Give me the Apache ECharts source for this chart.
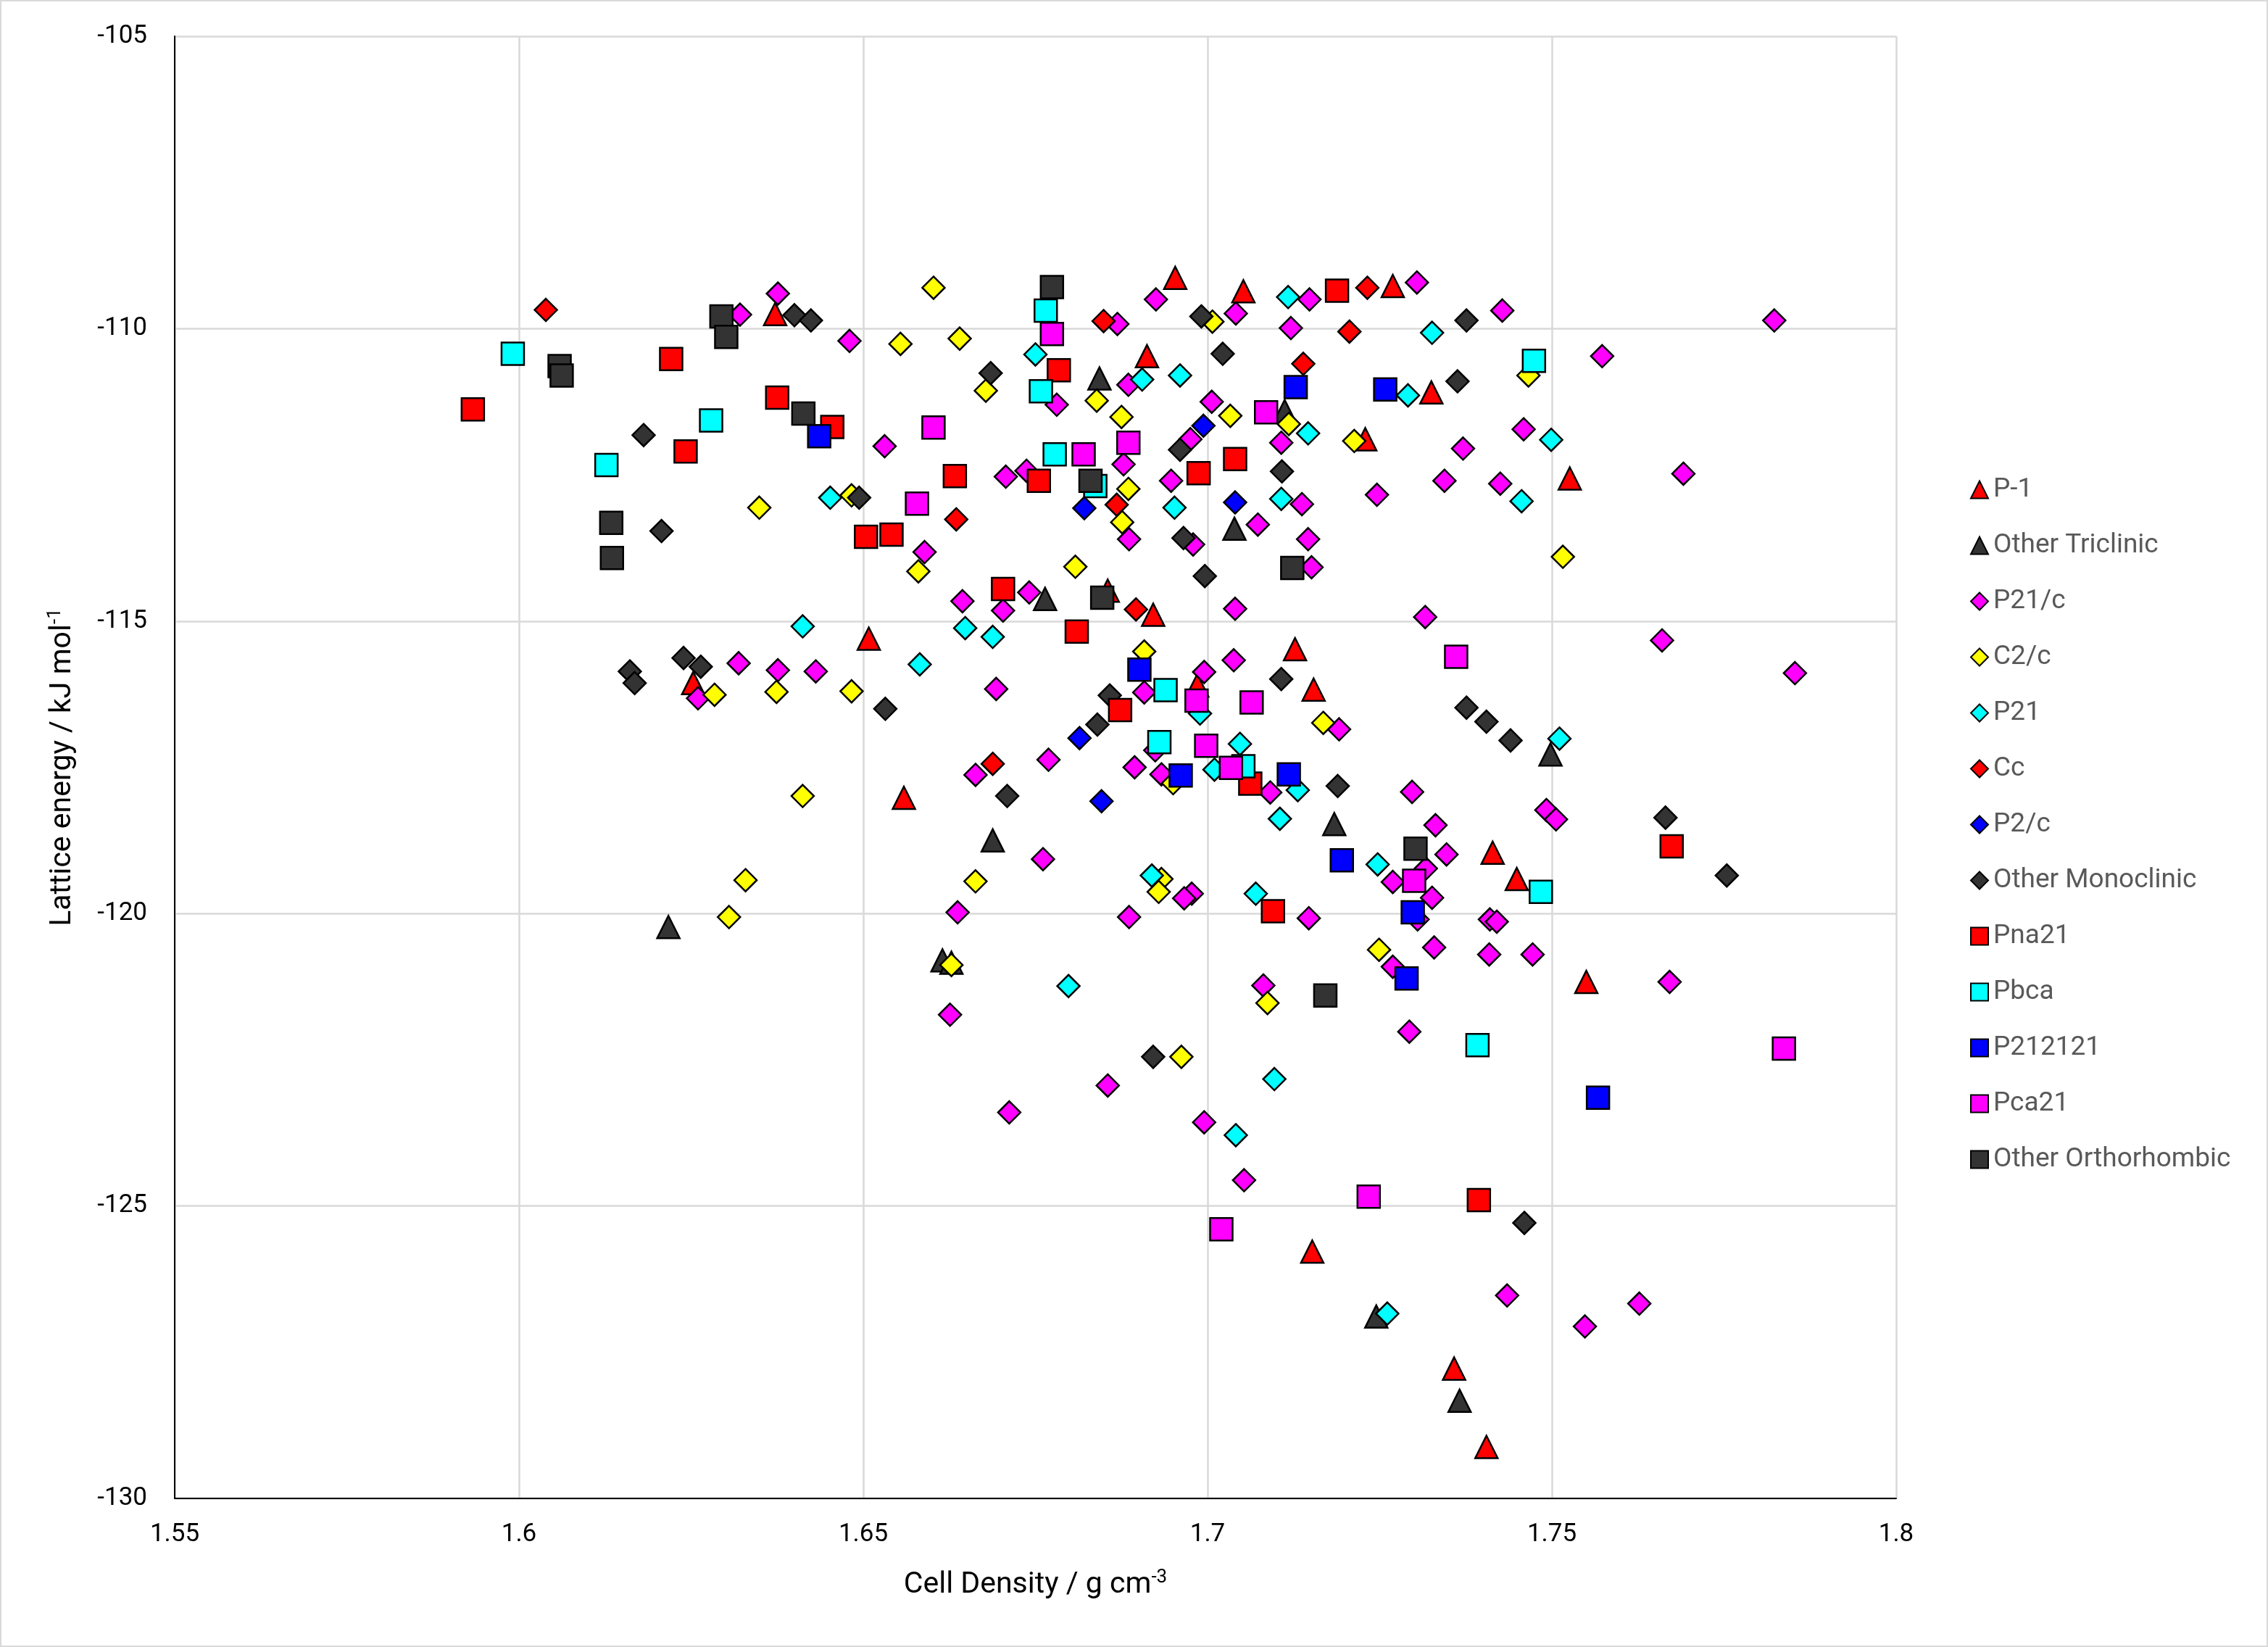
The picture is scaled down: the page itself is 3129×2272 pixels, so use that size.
<!DOCTYPE html>
<html lang="en">

<head>
  <meta charset="UTF-8">
  <title>Lattice energy vs cell density</title>
  <style>
    body {
      margin: 0;
      background: #fff;
    }
    #chart {
      width: 3129px;
      height: 2272px;
    }
  </style>
</head>

<body>
  <div id="chart"></div>
</body>

</html>
<script src="https://cdn.jsdelivr.net/npm/echarts/dist/echarts.min.js"></script>
<script>
  // x: cell density / g cm-3, y: lattice energy / kJ mol-1
  const xTicks = { min: 1.55, max: 1.8, step: 0.05 };
  const yTicks = { min: -130, max: -105, step: 5 };

  const dataP1 = [
    [1.6372, -109.75], [1.6253, -116.06], [1.6559, -118.02], [1.6508, -115.30], [1.6855, -114.48],
    [1.6921, -114.89], [1.6953, -109.13], [1.7052, -109.36], [1.7269, -109.27], [1.6912, -110.47],
    [1.7325, -111.09], [1.7229, -111.89], [1.7127, -115.48], [1.6985, -116.10], [1.7154, -116.17],
    [1.7526, -112.56], [1.7414, -118.96], [1.7449, -119.41], [1.7550, -121.17], [1.7152, -125.78],
    [1.7358, -127.78], [1.7405, -129.12]
  ];
  const dataOtherTriclinic = [
    [1.6843, -110.85], [1.6764, -114.62], [1.7112, -111.41], [1.7039, -113.42], [1.6688, -118.75],
    [1.6615, -120.80], [1.6628, -120.84], [1.6217, -120.23], [1.7184, -118.47], [1.7498, -117.28],
    [1.7245, -126.89], [1.7366, -128.33]
  ];
  const dataP21c = [
    [1.6321, -109.76], [1.6376, -109.40], [1.6260, -116.32], [1.6319, -115.72], [1.6376, -115.84],
    [1.6869, -109.92], [1.6480, -110.21], [1.6781, -111.30], [1.6885, -110.96], [1.6531, -112.01],
    [1.6878, -112.32], [1.6707, -112.53], [1.6737, -112.43], [1.6886, -113.60], [1.6589, -113.82],
    [1.6741, -114.51], [1.6703, -114.82], [1.6644, -114.66], [1.6431, -115.86], [1.6693, -116.16],
    [1.6663, -117.63], [1.6769, -117.37], [1.6894, -117.50], [1.6761, -119.07], [1.6637, -119.98],
    [1.6886, -120.06], [1.6626, -121.73], [1.6712, -123.40], [1.6855, -122.94],
    [1.6925, -109.50], [1.7041, -109.74], [1.7148, -109.50], [1.7304, -109.21], [1.7121, -109.99],
    [1.7006, -111.25], [1.6975, -111.89], [1.7107, -111.95], [1.7371, -112.05], [1.6947, -112.60],
    [1.7344, -112.60], [1.7246, -112.84], [1.7137, -113.00], [1.7073, -113.35], [1.6979, -113.69],
    [1.7146, -113.60], [1.7151, -114.08], [1.7040, -114.79], [1.7316, -114.93],
    [1.6995, -115.87], [1.7038, -115.67], [1.6908, -116.22], [1.7191, -116.85], [1.6924, -117.21],
    [1.6933, -117.62], [1.7091, -117.93], [1.7297, -117.92], [1.7331, -118.49], [1.7347, -118.99],
    [1.7269, -119.46], [1.7317, -119.23], [1.7326, -119.73], [1.7305, -120.10], [1.7329, -120.58],
    [1.6977, -119.66], [1.6966, -119.74], [1.7147, -120.08], [1.7269, -120.91], [1.7081, -121.23],
    [1.7293, -122.02], [1.6995, -123.57], [1.7053, -124.56],
    [1.7435, -126.53], [1.7548, -127.06], [1.7627, -126.67],
    [1.7428, -109.69], [1.7823, -109.86], [1.7573, -110.47], [1.7459, -111.72], [1.7691, -112.48],
    [1.7425, -112.65], [1.7660, -115.33], [1.7853, -115.89],
    [1.7492, -118.23], [1.7506, -118.39], [1.7410, -120.10], [1.7420, -120.14], [1.7409, -120.70],
    [1.7472, -120.70], [1.7671, -121.17]
  ];
  const dataC2c = [
    [1.6349, -113.06], [1.6284, -116.26], [1.6374, -116.21], [1.6412, -117.99], [1.6329, -119.43],
    [1.6305, -120.06], [1.6602, -109.30], [1.6554, -110.26], [1.6640, -110.17], [1.6678, -111.06],
    [1.6839, -111.23], [1.6875, -111.51], [1.6885, -112.74], [1.6876, -113.31], [1.6483, -112.85],
    [1.6580, -114.15], [1.6808, -114.07], [1.6483, -116.20], [1.6663, -119.45], [1.6628, -120.88],
    [1.7007, -109.88], [1.7033, -111.49], [1.7118, -111.63], [1.7213, -111.92], [1.7168, -116.74],
    [1.6950, -117.77], [1.6933, -119.41], [1.6929, -119.63], [1.7249, -120.62], [1.7087, -121.53],
    [1.6962, -122.45], [1.7466, -110.80], [1.7516, -113.90], [1.6908, -115.52]
  ];
  const dataP21 = [
    [1.6412, -115.09], [1.6750, -110.44], [1.6452, -112.89], [1.6648, -115.12], [1.6688, -115.27],
    [1.6582, -115.74], [1.6798, -121.24], [1.7117, -109.46], [1.7326, -110.07], [1.6905, -110.87],
    [1.6960, -110.80], [1.7291, -111.14], [1.7146, -111.79], [1.7107, -112.91], [1.6952, -113.06],
    [1.6989, -116.58], [1.7047, -117.10], [1.7010, -117.54], [1.7131, -117.89], [1.7105, -118.38],
    [1.7247, -119.16], [1.6919, -119.35], [1.7070, -119.66], [1.7097, -122.83], [1.7041, -123.79],
    [1.7261, -126.84], [1.7499, -111.90], [1.7456, -112.95], [1.7511, -117.01]
  ];
  const dataCc = [
    [1.6039, -109.68], [1.6849, -109.87], [1.6868, -113.01], [1.6635, -113.26], [1.6896, -114.80],
    [1.6688, -117.44], [1.7232, -109.30], [1.7206, -110.05], [1.7139, -110.60]
  ];
  const dataP2c = [
    [1.6821, -113.07], [1.6814, -117.00], [1.6846, -118.08], [1.6994, -111.66], [1.7040, -112.97]
  ];
  const dataOtherMonoclinic = [
    [1.6400, -109.77], [1.6424, -109.86], [1.6181, -111.82], [1.6207, -113.46], [1.6161, -115.86],
    [1.6168, -116.06], [1.6239, -115.63], [1.6264, -115.78], [1.6685, -110.76], [1.6494, -112.89],
    [1.6532, -116.50], [1.6709, -117.99], [1.6840, -116.77], [1.6858, -116.27], [1.6991, -109.79],
    [1.7376, -109.86], [1.7022, -110.43], [1.7363, -110.90], [1.6960, -112.07], [1.7108, -112.44],
    [1.6965, -113.58], [1.6996, -114.23], [1.7107, -115.99], [1.7376, -116.48], [1.7405, -116.72],
    [1.7440, -117.04], [1.7189, -117.82], [1.7665, -118.36], [1.7754, -119.35], [1.6921, -122.45],
    [1.7460, -125.29]
  ];
  const dataPna21 = [
    [1.5933, -111.38], [1.6221, -110.52], [1.6242, -112.10], [1.6375, -111.18], [1.6455, -111.68],
    [1.6784, -110.71], [1.6633, -112.52], [1.6755, -112.60], [1.6504, -113.56], [1.6541, -113.52],
    [1.6703, -114.45], [1.6810, -115.18], [1.6873, -116.52], [1.7188, -109.35], [1.7040, -112.23],
    [1.6987, -112.47], [1.7062, -117.78], [1.7095, -119.96], [1.7674, -118.85], [1.7394, -124.90]
  ];
  const dataPbca = [
    [1.5991, -110.43], [1.6127, -112.33], [1.6279, -111.57], [1.6765, -109.69], [1.6758, -111.07],
    [1.6778, -112.15], [1.6837, -112.69], [1.6939, -116.18], [1.6930, -117.07], [1.7052, -117.48],
    [1.7474, -110.55], [1.7484, -119.63], [1.7392, -122.25]
  ];
  const dataP212121 = [
    [1.6436, -111.84], [1.7128, -111.00], [1.7258, -111.04], [1.6901, -115.83], [1.6961, -117.64],
    [1.7118, -117.62], [1.7195, -119.09], [1.7298, -119.98], [1.7289, -121.11], [1.7567, -123.15]
  ];
  const dataPca21 = [
    [1.6774, -110.09], [1.6602, -111.69], [1.6885, -111.95], [1.6820, -112.15], [1.6578, -112.99],
    [1.7085, -111.43], [1.7361, -115.61], [1.6984, -116.36], [1.7064, -116.39], [1.6998, -117.13],
    [1.7034, -117.51], [1.7300, -119.44], [1.7234, -124.84], [1.7020, -125.40], [1.7837, -122.31]
  ];
  const dataOtherOrthorhombic = [
    [1.6059, -110.64], [1.6062, -110.80], [1.6294, -109.79], [1.6301, -110.14], [1.6413, -111.45],
    [1.6134, -113.32], [1.6135, -113.92], [1.6774, -109.29], [1.6830, -112.60], [1.6847, -114.60],
    [1.7123, -114.09], [1.7302, -118.89], [1.7171, -121.40]
  ];

  // name, marker, colour, data (drawn in this order, later on top)
  const seriesList = [
    ['P-1', 'triangle', '#FF0000', dataP1],
    ['Other Triclinic', 'triangle', '#333333', dataOtherTriclinic],
    ['P21/c', 'diamond', '#FF00FF', dataP21c],
    ['C2/c', 'diamond', '#FFFF00', dataC2c],
    ['P21', 'diamond', '#00FFFF', dataP21],
    ['Cc', 'diamond', '#FF0000', dataCc],
    ['P2/c', 'diamond', '#0000FF', dataP2c],
    ['Other Monoclinic', 'diamond', '#333333', dataOtherMonoclinic],
    ['Pna21', 'rect', '#FF0000', dataPna21],
    ['Pbca', 'rect', '#00FFFF', dataPbca],
    ['P212121', 'rect', '#0000FF', dataP212121],
    ['Pca21', 'rect', '#FF00FF', dataPca21],
    ['Other Orthorhombic', 'rect', '#333333', dataOtherOrthorhombic]
  ];

  const font = 'Roboto, "Liberation Sans", sans-serif';
  let chart = echarts.init(document.getElementById('chart'));

  let option = {
    animation: false,
    backgroundColor: '#fff',
    graphic: [{
      type: 'rect',
      silent: true,
      shape: { x: 1, y: 1, width: 3127, height: 2270 },
      style: { fill: 'transparent', stroke: '#d9d9d9', lineWidth: 2 }
    }],
    grid: {
      left: 241,
      top: 50,
      right: 513,
      bottom: 205
    },
    legend: {
      orient: 'vertical',
      left: 2713,
      top: 652,
      itemWidth: 24,
      itemHeight: 24,
      itemGap: 40,
      textStyle: {
        color: '#595959',
        fontSize: 37,
        lineHeight: 37,
        fontFamily: font,
        padding: [0, 0, 0, 2]
      },
      data: seriesList.map(s => s[0])
    },
    xAxis: {
      type: 'value',
      min: xTicks.min,
      max: xTicks.max,
      interval: xTicks.step,
      name: '{n|Cell Density / g cm}{sup|-3}',
      nameLocation: 'middle',
      nameGap: 96,
      nameTextStyle: {
        rich: {
          n: { fontSize: 41, lineHeight: 48, color: '#000', fontFamily: font },
          sup: { fontSize: 26, lineHeight: 22, verticalAlign: 'top', color: '#000', fontFamily: font }
        }
      },
      axisLine: { show: true, onZero: false, lineStyle: { color: '#000', width: 2 } },
      axisTick: { show: false },
      axisLabel: { color: '#000', fontSize: 35, fontFamily: font, margin: 33 },
      splitLine: { show: true, lineStyle: { color: '#d9d9d9', width: 2.5 } }
    },
    yAxis: {
      type: 'value',
      min: yTicks.min,
      max: yTicks.max,
      interval: yTicks.step,
      name: '{n|Lattice energy / kJ mol}{sup|-1}',
      nameLocation: 'middle',
      nameRotate: 90,
      nameGap: 130,
      nameTextStyle: {
        rich: {
          n: { fontSize: 41, lineHeight: 48, color: '#000', fontFamily: font },
          sup: { fontSize: 26, lineHeight: 22, verticalAlign: 'top', color: '#000', fontFamily: font }
        }
      },
      axisLine: { show: true, onZero: false, lineStyle: { color: '#000', width: 2 } },
      axisTick: { show: false },
      axisLabel: { color: '#000', fontSize: 35, fontFamily: font, margin: 38 },
      splitLine: { show: true, lineStyle: { color: '#d9d9d9', width: 2.5 } }
    },
    series: seriesList.map(s => ({
      name: s[0],
      type: 'scatter',
      symbol: s[1],
      symbolSize: 31,
      itemStyle: {
        color: s[2],
        borderColor: '#000',
        borderWidth: 2.5,
        opacity: 1
      },
      data: s[3]
    }))
  };

  chart.setOption(option);
</script>
